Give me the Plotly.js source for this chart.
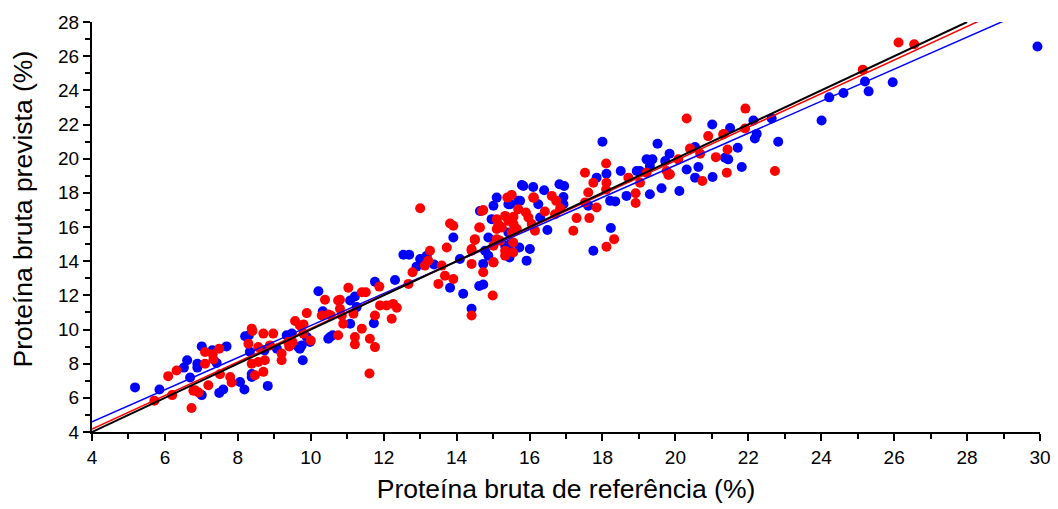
<!DOCTYPE html>
<html>
<head>
<meta charset="utf-8">
<script src="https://cdn.plot.ly/plotly-3.0.1.min.js"></script>
<style>html,body{margin:0;padding:0;background:#fff;}#chart{width:1058px;height:509px;}</style>
</head>
<body>
<div id="chart"></div>
<script>
// Blue series (reference vs predicted crude protein)
const blueX = [5.18,5.85,6.52,6.61,6.69,6.89,6.89,7.01,7.01,7.30,7.42,7.49,7.60,7.69,8.06,8.18,8.20,8.30,8.38,8.38,8.33,8.73,8.82,9.07,9.34,9.48,9.70,9.66,9.78,9.89,9.98,9.75,10.21,10.33,10.48,10.60,10.53,
  11.08,11.26,11.21,11.76,11.73,11.08,12.31,12.54,12.70,12.90,13.00,13.18,13.38,13.82,13.91,14.18,14.41,14.09,
  14.64,14.73,14.73,14.62,14.87,15.01,15.10,15.47,15.69,15.83,16.01,15.92,15.47,14.96,14.87,15.33,16.49,15.79,15.74,16.10,16.40,16.82,16.95,16.93,16.93,16.24,15.42,14.78,15.45,15.72,16.29,15.42,
  17.61,17.84,17.75,18.00,18.11,18.21,18.35,18.23,18.66,18.50,18.94,
  19.51,19.84,20.54,19.21,19.37,19.30,19.72,20.31,20.63,20.54,21.02,21.36,21.45,19.62,20.11,19.30,19.03,
  21.01,21.50,21.71,21.82,22.14,22.23,22.18,22.64,22.82,24.01,24.22,24.61,25.30,25.20,25.96,29.93];
const blueY = [6.61,6.49,7.77,8.20,7.19,8.00,7.77,9.01,6.16,8.78,8.04,6.29,6.49,9.01,6.93,6.49,9.60,9.65,7.40,7.22,8.70,8.78,6.70,8.88,9.66,9.76,8.88,8.97,8.20,9.56,9.27,9.07,12.24,11.07,9.46,9.66,9.56,
  11.70,11.31,11.93,12.80,10.37,10.34,12.90,14.38,14.38,13.68,14.13,14.32,13.80,12.44,15.39,12.09,11.21,14.13,
  16.94,13.84,12.63,12.55,14.32,17.24,17.72,17.33,17.53,18.40,14.71,14.03,15.00,16.46,15.39,14.90,15.82,18.46,17.53,18.34,18.15,18.50,18.40,17.76,17.33,17.33,17.33,14.61,14.22,14.80,16.56,15.68,
  17.24,18.89,14.61,20.99,19.12,17.53,17.50,15.94,17.82,19.28,19.28,
  20.87,20.29,20.68,19.96,19.96,19.57,19.86,19.37,19.51,18.89,18.93,20.05,19.96,18.27,18.11,17.92,19.28,
  22.00,21.80,20.64,19.51,22.23,21.45,21.18,22.35,20.99,22.23,23.59,23.84,23.94,24.52,24.47,26.57];

// Red series
const redX = [5.71,6.09,6.32,6.20,6.78,6.73,6.82,6.92,7.10,7.10,7.19,7.31,7.33,7.49,7.51,7.79,7.83,8.29,8.38,8.40,8.38,8.47,8.56,8.56,8.70,8.74,8.70,8.88,8.97,9.20,9.20,9.38,9.43,9.57,9.70,9.80,9.89,10.00,9.50,9.41,9.80,
  10.39,10.48,10.75,10.75,10.30,10.55,10.80,10.80,10.85,10.89,11.03,11.17,11.40,11.51,11.40,11.62,11.76,11.21,11.21,11.88,11.90,12.08,12.26,12.36,12.22,11.76,11.61,
  12.68,12.79,13.13,13.27,13.22,13.50,13.59,13.68,13.91,13.73,13.82,13.91,13.00,14.41,14.41,14.41,14.50,14.62,14.73,14.73,15.01,14.99,
  15.51,15.39,16.10,16.61,16.73,16.84,16.42,16.70,15.90,15.97,15.69,15.33,15.42,15.10,15.14,15.24,15.10,15.56,15.65,16.06,16.15,15.51,15.10,15.19,15.55,15.33,15.55,15.01,14.69,14.64,14.50,14.41,15.33,15.01,15.56,16.12,
  17.29,17.20,17.64,17.52,17.75,17.61,17.52,17.84,18.10,18.11,18.10,18.11,18.32,
  18.71,18.91,18.91,19.03,19.21,19.76,19.85,20.08,20.40,20.90,21.31,21.11,21.41,20.74,20.68,19.81,
  20.31,21.92,21.33,21.91,21.43,22.73,25.14,26.12,26.55];
const redY = [5.83,7.27,7.60,6.16,6.41,5.40,6.45,6.31,8.68,8.00,6.74,8.55,8.24,8.88,7.38,7.22,6.90,9.17,10.05,9.91,8.00,7.32,8.97,8.10,9.76,8.20,7.52,9.07,9.76,8.59,8.20,9.27,9.07,10.50,10.24,10.30,10.96,9.36,9.27,9.01,9.76,
  11.74,10.88,11.70,9.66,10.82,10.82,11.74,11.21,10.82,10.34,12.44,10.92,12.18,12.18,10.05,9.46,8.97,9.56,9.13,12.51,11.41,11.41,11.50,11.27,10.63,10.82,7.42,
  12.67,13.35,13.74,14.61,14.03,12.67,13.74,13.15,12.96,14.80,16.20,16.07,17.10,10.82,14.61,13.84,15.24,15.97,16.99,13.35,13.93,11.99,
  17.88,17.72,17.72,17.82,17.53,17.10,16.91,16.75,16.85,16.56,17.04,16.65,16.36,16.46,16.17,15.97,15.88,16.17,15.88,16.17,15.78,15.68,15.29,15.20,15.10,14.61,14.51,14.90,16.94,15.97,15.29,14.71,14.32,13.93,16.60,17.72,
  16.52,15.78,16.52,19.18,18.59,18.02,17.43,17.14,19.72,18.59,18.20,14.85,15.29,
  18.89,17.98,17.40,18.59,19.18,19.28,19.09,19.96,20.60,21.32,21.42,20.09,19.18,18.69,20.29,19.04,
  22.35,22.93,21.45,21.77,20.54,19.28,25.21,26.80,26.70];

// Fitted lines (end points)
const idLineX = [4, 28];
const idLineY = [4, 28];
const redLineX = [4, 30];
const redLineY = [4.17, 29.70];
const blueLineX = [4, 30];
const blueLineY = [4.60, 28.99];

const xTicks = [4,6,8,10,12,14,16,18,20,22,24,26,28,30];
const yTicks = [4,6,8,10,12,14,16,18,20,22,24,26,28];
const xTitle = 'Proteína bruta de referência (%)';
const yTitle = 'Proteína bruta prevista (%)';

const traces = [
  {x: blueX, y: blueY, type: 'scatter', mode: 'markers', cliponaxis: false,
   marker: {color: '#0000ff', size: 10}, hoverinfo: 'x+y'},
  {x: redX, y: redY, type: 'scatter', mode: 'markers', cliponaxis: false,
   marker: {color: '#ff0000', size: 10}, hoverinfo: 'x+y'},
  {x: blueLineX, y: blueLineY, type: 'scatter', mode: 'lines', line: {color: '#0000ff', width: 1.5}},
  {x: redLineX, y: redLineY, type: 'scatter', mode: 'lines', line: {color: '#ff0000', width: 1.5}},
  {x: idLineX, y: idLineY, type: 'scatter', mode: 'lines', line: {color: '#000000', width: 2}}
];

const FONT = 'Liberation Sans, Arial, sans-serif';
const axisCommon = {
  showgrid: false, zeroline: false, showline: true, linecolor: '#000', linewidth: 2,
  ticks: 'outside', ticklen: 7, tickwidth: 2, tickcolor: '#000',
  tickfont: {family: FONT, size: 19, color: '#000'},
  minor: {dtick: 1, ticks: 'outside', ticklen: 5, tickwidth: 2, tickcolor: '#000'}
};

const layout = {
  width: 1058, height: 509,
  margin: {l: 92, r: 18, t: 22, b: 77},
  paper_bgcolor: '#fff', plot_bgcolor: '#fff',
  showlegend: false,
  xaxis: Object.assign({}, axisCommon, {
    range: [4, 30], tickvals: xTicks, ticktext: xTicks.map(String),
    title: {text: xTitle, font: {family: FONT, size: 26.5, color: '#000'}, standoff: 13}
  }),
  yaxis: Object.assign({}, axisCommon, {
    range: [4, 28], tickvals: yTicks, ticktext: yTicks.map(String)
  }),
  annotations: [{
    text: yTitle, textangle: -90, showarrow: false,
    xref: 'paper', yref: 'paper', x: -0.0723, y: 0.544,
    xanchor: 'center', yanchor: 'middle',
    font: {family: FONT, size: 26.5, color: '#000'}
  }]
};

Plotly.newPlot('chart', traces, layout, {displayModeBar: false, staticPlot: true});
</script>
</body>
</html>
